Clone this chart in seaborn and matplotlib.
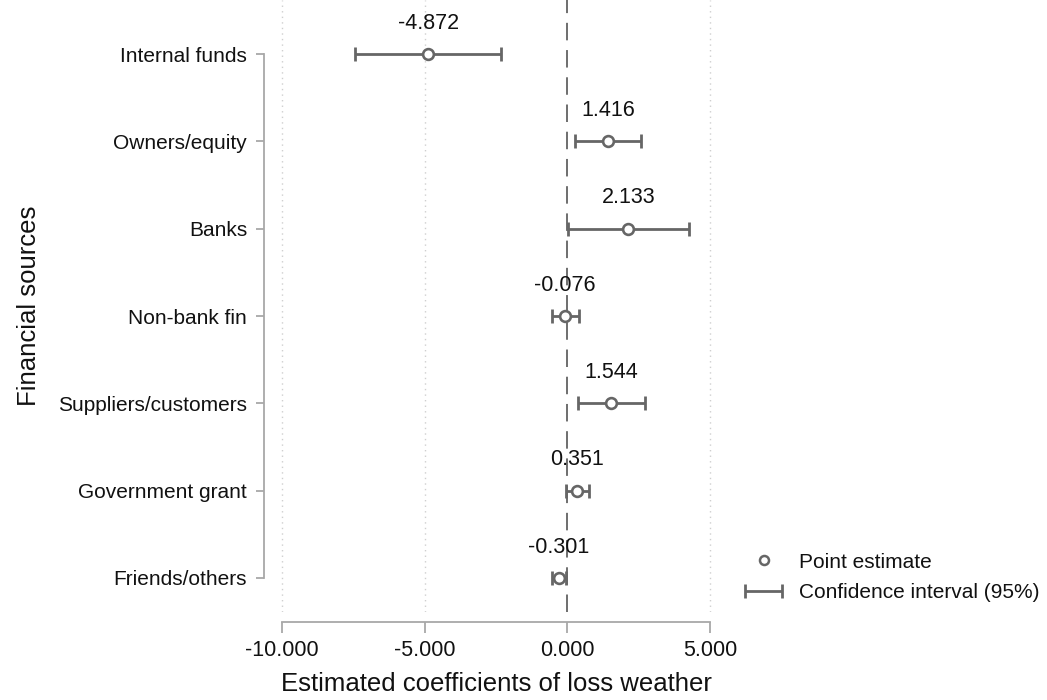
import numpy as np
import pandas as pd
import matplotlib
matplotlib.use("Agg")
import matplotlib.pyplot as plt
from matplotlib.lines import Line2D
from matplotlib.container import ErrorbarContainer
from matplotlib.legend_handler import HandlerErrorbar
import seaborn as sns

# Coefficient estimates with 95% confidence bounds
sources = ["Internal funds", "Owners/equity", "Banks", "Non-bank fin",
           "Suppliers/customers", "Government grant", "Friends/others"]
estimates = [-4.872, 1.416, 2.133, -0.076, 1.544, 0.351, -0.301]
ci_low = [-7.44, 0.26, 0.02, -0.55, 0.36, -0.04, -0.55]
ci_high = [-2.31, 2.58, 4.25, 0.40, 2.73, 0.75, -0.05]
x_ticks = [-10, -5, 0, 5]
x_tick_labels = ["-10.000", "-5.000", "0.000", "5.000"]

df = pd.DataFrame({"source": sources, "estimate": estimates,
                   "low": ci_low, "high": ci_high})
df["pos"] = np.arange(len(df))

sns.set_theme(style="white")
plt.rcParams["font.family"] = ["Liberation Sans", "DejaVu Sans"]

gray = "#666666"
spine_gray = "#a8a8a8"
txt = "#111111"

fig = plt.figure(figsize=(10.47, 7.0), dpi=100)
ax = fig.add_axes([0.2579, 0.1257, 0.4317, 0.8743])

# grid and reference line
for t in x_ticks:
    if t != 0:
        ax.axvline(t, color="#cfcfcf", linestyle=(0, (1, 3)), linewidth=1.0, zorder=0)
ax.axvline(0, color="#6e6e6e", linestyle=(0, (9, 5)), linewidth=1.4, zorder=1)

# confidence intervals
ci = ax.errorbar(df["estimate"], df["pos"],
                 xerr=[df["estimate"] - df["low"], df["high"] - df["estimate"]],
                 fmt="none", ecolor=gray, elinewidth=2.0, capsize=5, capthick=2.0,
                 zorder=2, label="Confidence interval (95%)")

# point estimates
sns.scatterplot(data=df, x="estimate", y="pos", ax=ax, marker="o", s=60,
                facecolor="white", edgecolor=gray, linewidth=1.9, zorder=3,
                legend=False)

# value labels
for _, r in df.iterrows():
    ax.text(r["estimate"], r["pos"] - 0.29, f"{r['estimate']:.3f}",
            ha="center", va="baseline", fontsize=15.5, color=txt, zorder=4)

ax.set_xlim(-10.42, 5.42)
ax.set_ylim(6.39, -0.62)
ax.set_xticks(x_ticks)
ax.set_xticklabels(x_tick_labels)
ax.set_yticks(df["pos"])
ax.set_yticklabels(sources)

for side in ["top", "right"]:
    ax.spines[side].set_visible(False)
ax.spines["left"].set_position(("outward", 4.5))
ax.spines["left"].set_bounds(0, len(sources) - 1)
ax.spines["bottom"].set_position(("outward", 7.2))
ax.spines["bottom"].set_bounds(-10, 5)
for side in ["left", "bottom"]:
    ax.spines[side].set_color(spine_gray)
    ax.spines[side].set_linewidth(1.3)

ax.tick_params(axis="x", direction="out", length=8, width=1.3, color=spine_gray,
               labelsize=15.5, labelcolor=txt, pad=5, bottom=True)
ax.tick_params(axis="y", direction="out", length=6, width=1.3, color=spine_gray,
               labelsize=15, labelcolor=txt, pad=6, left=True)

ax.set_xlabel("Estimated coefficients of loss weather", fontsize=18.5,
              color=txt, labelpad=8)
ax.set_ylabel("Financial sources", fontsize=18.5, color=txt, labelpad=12)

handles = [Line2D([], [], marker="o", linestyle="none", markersize=6.5,
                  markerfacecolor="white", markeredgecolor=gray,
                  markeredgewidth=1.8),
           ci]
fig.legend(handles, ["Point estimate", "Confidence interval (95%)"],
           loc="center left", bbox_to_anchor=(0.6935, 0.175), frameon=False,
           fontsize=15, handlelength=1.8, handletextpad=0.8, labelspacing=0.55,
           labelcolor=txt,
           handler_map={ErrorbarContainer: HandlerErrorbar(xerr_size=0.9)})

fig.savefig("out.png", dpi=100, facecolor="white")
